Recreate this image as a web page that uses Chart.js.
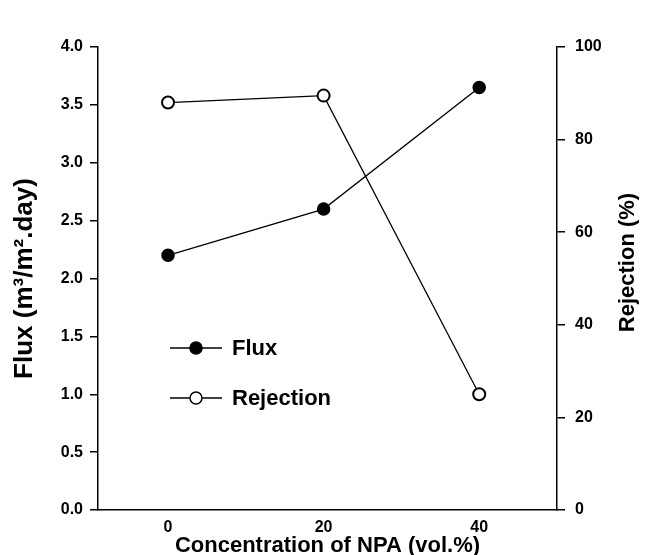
<!DOCTYPE html>
<html>
<head>
<meta charset="utf-8">
<script src="https://cdn.jsdelivr.net/npm/chart.js@4/dist/chart.umd.min.js"></script>
<style>
  html, body { margin: 0; padding: 0; background: #fff; }
  #wrap { width: 645px; height: 555px; }
</style>
</head>
<body>
<div id="wrap"><canvas id="grafico"></canvas></div>
<script>
// dados
const concentracao = [0, 20, 40];
const fluxo = [2.2, 2.6, 3.65];
const rejeicao = [88, 89.5, 25];
const ticksX = [0, 20, 40];

const fonteTick = { family: 'Liberation Sans', size: 16, weight: 'bold' };
const fonteTitulo = { family: 'Liberation Sans', size: 22, weight: 'bold' };

// legenda desenhada dentro da area do grafico
const legendaInterna = {
  id: 'legendaInterna',
  afterDraw(chart) {
    const { ctx, chartArea } = chart;
    const x0 = chartArea.left + 72;
    const y0 = chartArea.top + 301;
    ctx.save();
    chart.data.datasets.forEach((ds, i) => {
      const y = y0 + i * 50;
      ctx.strokeStyle = '#000';
      ctx.lineWidth = 1.5;
      ctx.beginPath();
      ctx.moveTo(x0, y);
      ctx.lineTo(x0 + 52, y);
      ctx.stroke();
      ctx.beginPath();
      ctx.arc(x0 + 26, y, 6, 0, Math.PI * 2);
      ctx.fillStyle = ds.pointBackgroundColor;
      ctx.fill();
      ctx.stroke();
      ctx.fillStyle = '#000';
      ctx.font = 'bold 22px "Liberation Sans"';
      ctx.textBaseline = 'middle';
      ctx.fillText(ds.label, x0 + 62, y + 1);
    });
    // titulo do eixo direito, lido de baixo para cima
    const ry = (chartArea.top + chartArea.bottom) / 2 - 16;
    ctx.translate(628, ry);
    ctx.rotate(-Math.PI / 2);
    ctx.textAlign = 'center';
    ctx.textBaseline = 'middle';
    ctx.font = 'bold 22px "Liberation Sans"';
    ctx.fillText('Rejection (%)', 0, 0);
    ctx.restore();
  }
};

const ctx = document.getElementById('grafico').getContext('2d');
const grafico = new Chart(ctx, {
  type: 'line',
  data: {
    datasets: [{
      label: 'Flux',
      data: concentracao.map((c, i) => ({ x: c, y: fluxo[i] })),
      yAxisID: 'y',
      borderColor: '#000',
      borderWidth: 1.3,
      pointRadius: 6,
      pointBackgroundColor: '#000',
      pointBorderColor: '#000',
      pointBorderWidth: 1.5,
      tension: 0
    }, {
      label: 'Rejection',
      data: concentracao.map((c, i) => ({ x: c, y: rejeicao[i] })),
      yAxisID: 'y1',
      borderColor: '#000',
      borderWidth: 1.3,
      pointRadius: 6,
      pointBackgroundColor: '#fff',
      pointBorderColor: '#000',
      pointBorderWidth: 2,
      tension: 0
    }]
  },
  options: {
    responsive: true,
    maintainAspectRatio: false,
    animation: false,
    layout: { padding: { top: 47 } },
    plugins: {
      legend: { display: false },
      tooltip: { enabled: false }
    },
    scales: {
      x: {
        type: 'linear',
        min: -9,
        max: 50,
        afterBuildTicks: s => { s.ticks = ticksX.map(v => ({ value: v })); },
        afterFit: s => { s.height = 45; },
        grid: { display: false, drawTicks: false },
        border: { display: true, color: '#000', width: 1.5 },
        ticks: { color: '#000', font: fonteTick, padding: 8 },
        title: { display: true, text: 'Concentration of NPA (vol.%)', color: '#000', font: fonteTitulo, padding: { top: 0, bottom: -4 } }
      },
      y: {
        position: 'left',
        min: 0,
        max: 4,
        afterFit: s => { s.width = 98; },
        grid: { drawOnChartArea: false, color: '#000', tickLength: 8, lineWidth: 1.5 },
        border: { display: true, color: '#000', width: 1.5 },
        ticks: { stepSize: 0.5, color: '#000', font: fonteTick, padding: 7, callback: v => v.toFixed(1) },
        title: { display: true, text: 'Flux (m³/m².day)', color: '#000', font: { family: 'Liberation Sans', size: 26, weight: 'bold' }, padding: { top: 9, bottom: 0 } }
      },
      y1: {
        position: 'right',
        min: 0,
        max: 100,
        afterFit: s => { s.width = 88; },
        grid: { drawOnChartArea: false, color: '#000', tickLength: 8, lineWidth: 1.5 },
        border: { display: true, color: '#000', width: 1.5 },
        ticks: { stepSize: 20, color: '#000', font: fonteTick, padding: 10 }
      }
    }
  },
  plugins: [legendaInterna]
});
</script>
</body>
</html>
